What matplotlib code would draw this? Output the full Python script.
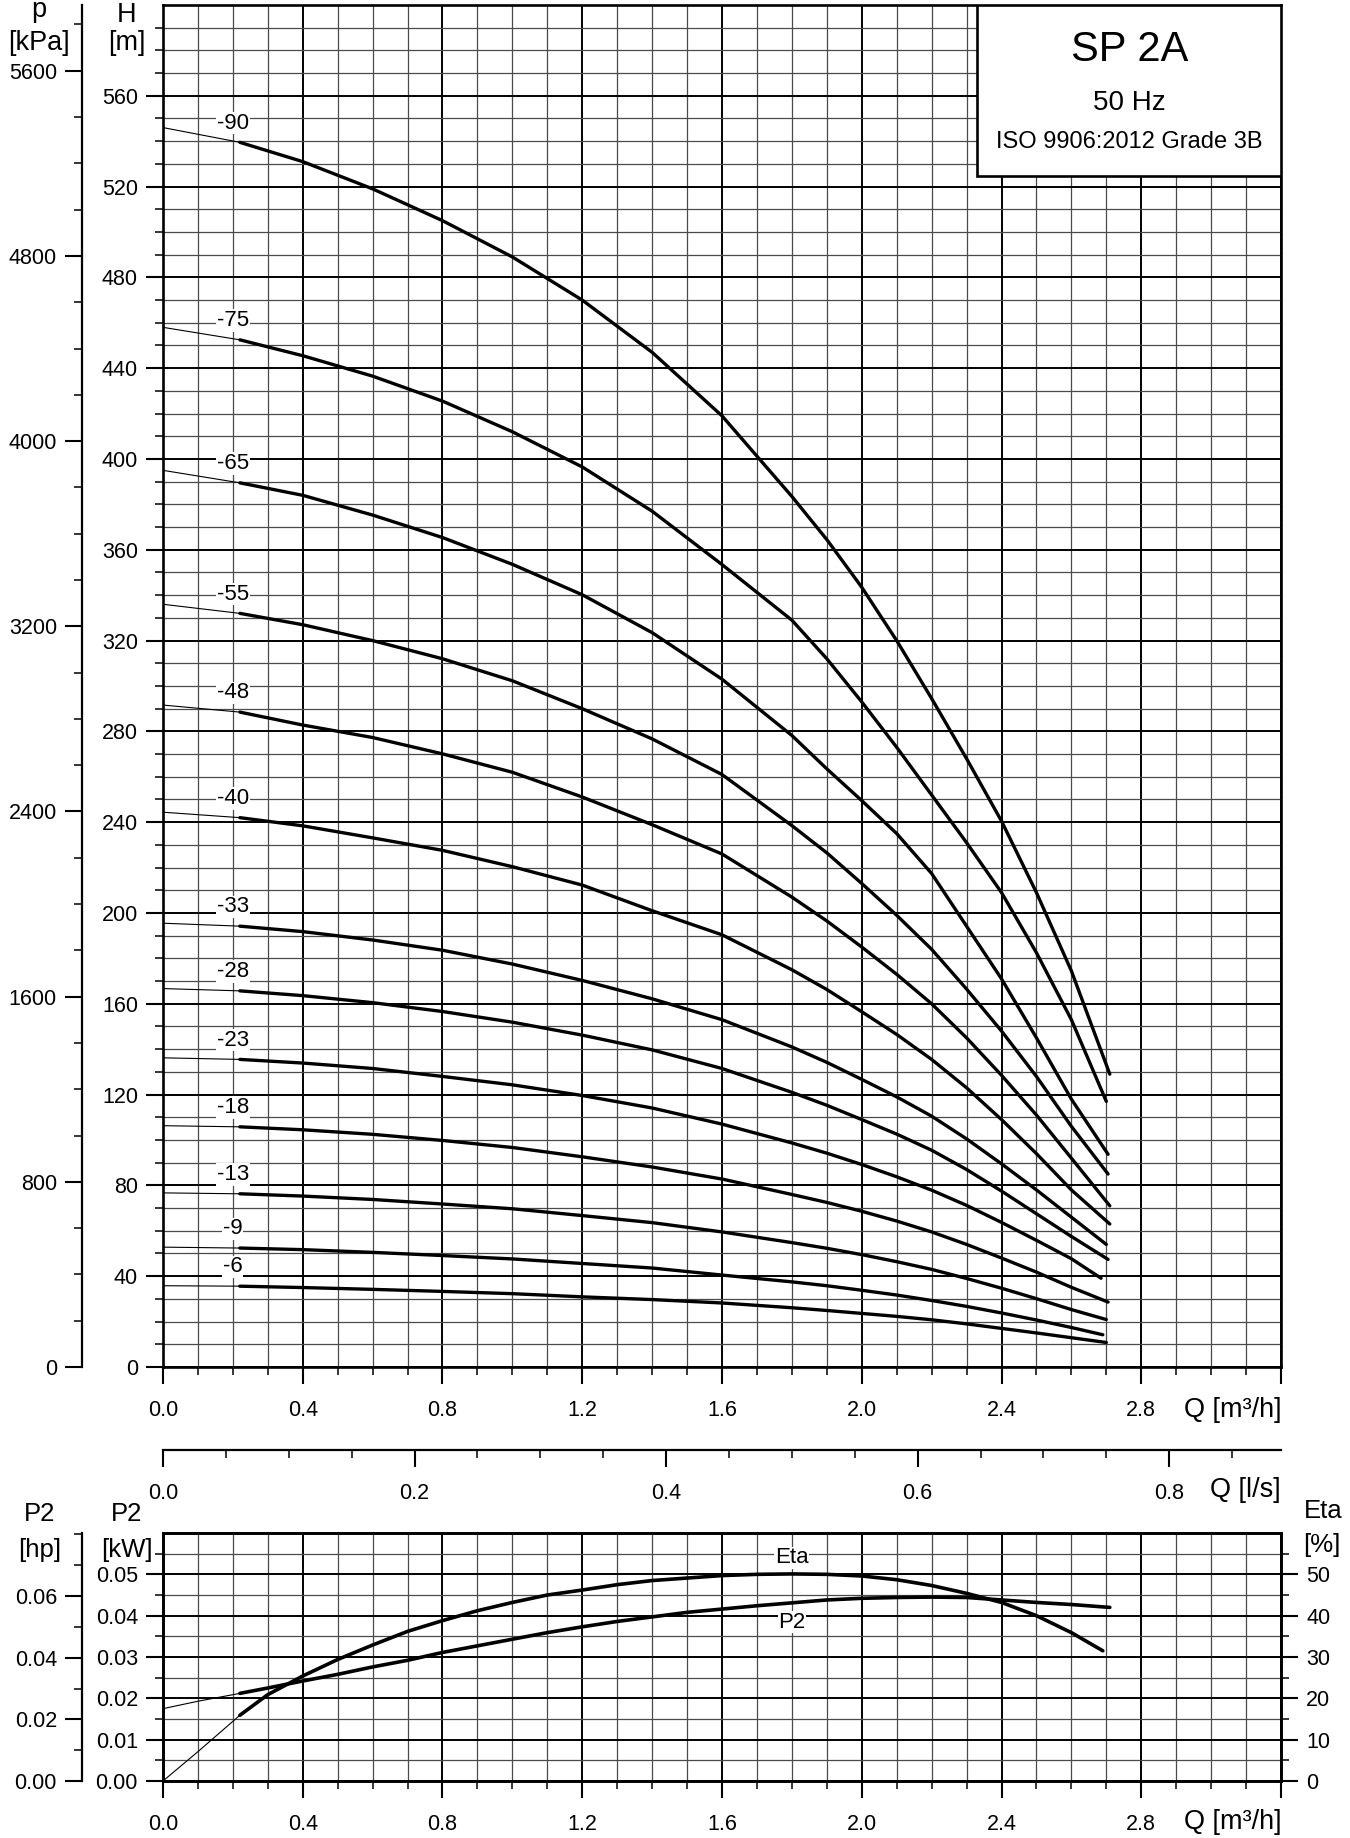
import matplotlib
matplotlib.use('Agg')
import matplotlib.pyplot as plt
from matplotlib.patches import Rectangle
from matplotlib.ticker import FixedLocator, FormatStrFormatter, FuncFormatter

plt.rcParams['font.family'] = ['Liberation Sans', 'DejaVu Sans']

# Curvas H-Q; el último valor es el extremo de cada curva
caudal = [0.0, 0.22, 0.4, 0.6, 0.8, 1.0, 1.2, 1.4, 1.6, 1.8, 1.9, 2.0, 2.1,
          2.2, 2.3, 2.4, 2.5, 2.6]
etapas = ['-90', '-75', '-65', '-55', '-48', '-40', '-33', '-28', '-23', '-18',
          '-13', '-9', '-6']
q_fin = [2.71, 2.70, 2.705, 2.705, 2.71, 2.71, 2.70, 2.705, 2.685, 2.705,
         2.70, 2.69, 2.70]
h_90 = [546, 539.5, 531, 519, 505, 489, 470, 447, 419, 383.5, 364.5, 343.5,
        320, 294.5, 268, 240.5, 209, 174.5, 129]
h_75 = [458, 452.5, 445.5, 436.5, 425.5, 412, 396.5, 377, 353.5, 329, 312, 293,
        273, 252, 231, 209, 182.5, 153, 117]
h_65 = [395, 389.5, 384, 375.3, 365.4, 353.6, 340.2, 323.5, 303, 278.2, 263.5,
        249.5, 235, 217.4, 194.2, 171, 145, 118, 93.7]
h_55 = [336, 332, 327, 320, 312, 302.3, 290, 276.7, 261, 238.5, 226.5, 213, 199,
        184, 166.5, 148, 128, 106, 85]
h_48 = [291.6, 288.5, 282.8, 277.3, 270.1, 262, 251.1, 238.9, 226, 207, 196.5,
        185, 173, 160, 145, 128.5, 111, 92, 71]
h_40 = [244.4, 242, 238.4, 233.1, 227.6, 220.4, 212.3, 201, 190.4, 175, 166.3,
        156.5, 146.5, 135.5, 123, 109, 94, 78, 63]
h_33 = [195.5, 194.2, 191.8, 188.1, 183.6, 177.5, 170.3, 162.2, 153, 141, 134.2,
        126.7, 119, 110.5, 100.5, 89.5, 78, 66, 54]
h_28 = [166.7, 165.7, 163.6, 160.5, 156.6, 151.9, 146.2, 139.7, 131.5, 121,
        115.3, 109, 102.6, 95.5, 87, 77.5, 67.5, 57.5, 47.4]
h_23 = [136.2, 135.5, 133.9, 131.5, 128, 124.3, 119.6, 114.1, 107, 98.7, 94.2,
        89.2, 83.8, 77.9, 71.2, 63.7, 55.8, 47.7, 39.1]
h_18 = [106.3, 105.8, 104.5, 102.5, 99.8, 96.7, 92.6, 88.1, 82.8, 76, 72.5,
        68.6, 64.3, 59.5, 54, 48, 41.8, 35.1, 28.6]
h_13 = [76.7, 76.3, 75.3, 73.8, 71.8, 69.7, 66.7, 63.6, 59.5, 54.8, 52.3, 49.5,
        46.4, 43, 39, 34.7, 30.1, 25.3, 20.9]
h_9 = [52.8, 52.4, 51.7, 50.5, 49.1, 47.6, 45.6, 43.6, 40.5, 37.5, 35.8, 33.8,
       31.7, 29.3, 26.7, 23.8, 20.7, 17.4, 14.2]
h_6 = [35.8, 35.6, 35, 34.2, 33.3, 32.3, 30.9, 29.7, 28.2, 26.1, 24.9, 23.6,
       22.3, 20.8, 19, 17, 15, 12.9, 10.8]
alturas = [h_90, h_75, h_65, h_55, h_48, h_40, h_33, h_28, h_23, h_18, h_13,
           h_9, h_6]

# Curvas de potencia y rendimiento
caudal_inf = [0.0, 0.1, 0.22, 0.3, 0.4, 0.5, 0.6, 0.7, 0.8, 0.9, 1.0, 1.1, 1.2,
              1.3, 1.4, 1.5, 1.6, 1.7, 1.8, 1.9, 2.0, 2.1, 2.2, 2.3, 2.4, 2.5,
              2.6]
eta = [0, 7.1, 15.9, 20.9, 25.4, 29.4, 32.9, 36.2, 38.8, 41.2, 43.2, 45.0, 46.2,
       47.5, 48.5, 49.1, 49.7, 50.0, 50.1, 50.0, 49.6, 48.7, 47.3, 45.4, 43.2,
       40.0, 35.9]
eta_fin = (2.69, 31.5)
p2_kw = [0.0175, 0.0193, 0.0212, 0.0225, 0.0242, 0.0258, 0.0276, 0.0292, 0.0311,
         0.0327, 0.0343, 0.0359, 0.0373, 0.0386, 0.0397, 0.0408, 0.0416, 0.0424,
         0.0431, 0.0438, 0.0442, 0.0444, 0.0445, 0.0444, 0.0438, 0.0432, 0.0427]
p2_fin = (2.71, 0.042)

# Ejes y marcas
q_mayor = [0.0, 0.4, 0.8, 1.2, 1.6, 2.0, 2.4, 2.8, 3.2]
q_menor = [i / 10 for i in range(33)]
h_mayor = list(range(0, 561, 40))
h_menor = list(range(0, 591, 10))
p_mayor = list(range(0, 5601, 800))
p_menor = list(range(0, 5801, 200))
ls_mayor = [0.0, 0.2, 0.4, 0.6, 0.8]
ls_menor = [i * 0.05 for i in range(18)]
kw_mayor = [0.0, 0.01, 0.02, 0.03, 0.04, 0.05]
kw_menor = [i * 0.005 for i in range(12)]
eta_mayor = [0, 10, 20, 30, 40, 50]
eta_menor = list(range(0, 56, 5))
hp_mayor = [0.0, 0.02, 0.04, 0.06]
hp_menor = [0.01, 0.03, 0.05, 0.07, 0.08]

TICK = 15.5
ETIQ = 19.5
GRUESO = 2.4
FINO = 0.8
PAD_X = 11.5


def estilo_marcas(eje, axis='both', pad=6):
    eje.tick_params(axis=axis, which='major', direction='out', length=12,
                    width=1.5, labelsize=TICK, pad=pad)
    eje.tick_params(axis=axis, which='minor', direction='out', length=6,
                    width=1.1)


def rejilla(eje, y_mayor, y_menor):
    eje.xaxis.set_major_locator(FixedLocator(q_mayor))
    eje.xaxis.set_minor_locator(FixedLocator(q_menor))
    eje.yaxis.set_major_locator(FixedLocator(y_mayor))
    eje.yaxis.set_minor_locator(FixedLocator(y_menor))
    eje.grid(which='minor', color='#4a4a4a', lw=0.9)
    eje.grid(which='major', color='black', lw=1.4)
    eje.set_axisbelow(True)
    eje.xaxis.set_major_formatter(
        FuncFormatter(lambda v, p: '' if v > 3.0 else f'{v:.1f}'))
    for s in eje.spines.values():
        s.set_linewidth(1.9)


fig = plt.figure(figsize=(13.5, 18.38), dpi=100)

# Gráfico principal H-Q
ax = fig.add_axes([0.12074, 0.25626, 0.82815, 0.74102])
ax.set_xlim(0, 3.2)
ax.set_ylim(0, 600)
rejilla(ax, h_mayor, h_menor)
ax.yaxis.set_major_formatter(FormatStrFormatter('%d'))
estilo_marcas(ax, 'y', 6)
estilo_marcas(ax, 'x', PAD_X)

for etiqueta, h, qf in zip(etapas, alturas, q_fin):
    q = caudal + [qf]
    ax.plot(q[:2], h[:2], color='black', lw=FINO, zorder=3)
    ax.plot(q[1:], h[1:], color='black', lw=GRUESO, zorder=3,
            solid_capstyle='round', solid_joinstyle='round')
    ax.text(0.2, h[1] + 8.5, etiqueta, fontsize=16, ha='center', va='center',
            zorder=4, bbox=dict(facecolor='white', edgecolor='none', pad=0.5))

# Recuadro del título
ax.add_patch(Rectangle((2.331, 524.7), 3.2 - 2.331, 600 - 524.7,
                       facecolor='white', edgecolor='black', lw=1.9, zorder=5))
ax.text(2.766, 580.2, 'SP 2A', fontsize=30, ha='center', va='center', zorder=6)
ax.text(2.766, 556.9, '50 Hz', fontsize=20, ha='center', va='center', zorder=6)
ax.text(2.766, 539.7, 'ISO 9906:2012 Grade 3B', fontsize=17, ha='center',
        va='center', zorder=6)

# Eje de presión
ax_p = ax.secondary_yaxis(-0.0725, functions=(lambda h: h * 9.80665,
                                               lambda p: p / 9.80665))
ax_p.yaxis.set_major_locator(FixedLocator(p_mayor))
ax_p.yaxis.set_minor_locator(FixedLocator(p_menor))
ax_p.yaxis.set_major_formatter(FormatStrFormatter('%d'))
estilo_marcas(ax_p, 'y', 6)
ax_p.spines['left'].set_linewidth(1.6)

# Eje de caudal en l/s
ax_ls = ax.secondary_xaxis(-0.0609, functions=(lambda q: q / 3.6,
                                                lambda l: l * 3.6))
ax_ls.xaxis.set_major_locator(FixedLocator(ls_mayor))
ax_ls.xaxis.set_minor_locator(FixedLocator(ls_menor))
ax_ls.xaxis.set_major_formatter(FormatStrFormatter('%.1f'))
estilo_marcas(ax_ls, 'x', PAD_X)
ax_ls.spines['bottom'].set_linewidth(1.6)

ax.text(1.0, -0.0316, 'Q [m³/h]', transform=ax.transAxes, ha='right',
        va='center', fontsize=19.5)
ax.text(1.0, -0.0903, 'Q [l/s]', transform=ax.transAxes, ha='right',
        va='center', fontsize=19.5)

# Gráfico inferior P2 / Eta
ax_inf = fig.add_axes([0.12074, 0.03101, 0.82815, 0.13493])
ax_inf.set_xlim(0, 3.2)
ax_inf.set_ylim(0, 0.06)
rejilla(ax_inf, kw_mayor, kw_menor)
ax_inf.yaxis.set_major_formatter(FormatStrFormatter('%.2f'))
estilo_marcas(ax_inf, 'y', 6)
estilo_marcas(ax_inf, 'x', PAD_X)

ax_eta = ax_inf.twinx()
ax_eta.set_ylim(0, 60)
ax_eta.yaxis.set_major_locator(FixedLocator(eta_mayor))
ax_eta.yaxis.set_minor_locator(FixedLocator(eta_menor))
ax_eta.yaxis.set_major_formatter(FormatStrFormatter('%d'))
estilo_marcas(ax_eta, 'y', 6)
for s in ax_eta.spines.values():
    s.set_linewidth(1.9)

q_p2 = caudal_inf + [p2_fin[0]]
v_p2 = p2_kw + [p2_fin[1]]
ax_inf.plot(q_p2[:3], v_p2[:3], color='black', lw=FINO, zorder=3)
ax_inf.plot(q_p2[2:], v_p2[2:], color='black', lw=2.6, zorder=3,
            solid_capstyle='round', solid_joinstyle='round')
q_eta = caudal_inf + [eta_fin[0]]
v_eta = eta + [eta_fin[1]]
ax_eta.plot(q_eta[:3], v_eta[:3], color='black', lw=FINO)
ax_eta.plot(q_eta[2:], v_eta[2:], color='black', lw=2.6,
            solid_capstyle='round', solid_joinstyle='round')
ax_eta.text(1.8, 54, 'Eta', fontsize=16, ha='center', va='center',
            bbox=dict(facecolor='white', edgecolor='none', pad=0.5))
ax_eta.text(1.8, 38.4, 'P2', fontsize=16, ha='center', va='center',
            bbox=dict(facecolor='white', edgecolor='none', pad=0.5))

ax_hp = ax_inf.secondary_yaxis(-0.0725, functions=(lambda kw: kw / 0.7457,
                                                    lambda hp: hp * 0.7457))
ax_hp.yaxis.set_major_locator(FixedLocator(hp_mayor))
ax_hp.yaxis.set_minor_locator(FixedLocator(hp_menor))
ax_hp.yaxis.set_major_formatter(FormatStrFormatter('%.2f'))
estilo_marcas(ax_hp, 'y', 6)
ax_hp.spines['left'].set_linewidth(1.6)

ax_inf.text(1.0, -0.165, 'Q [m³/h]', transform=ax_inf.transAxes, ha='right',
            va='center', fontsize=19.5)

# Títulos de los ejes
W, H = 1350, 1838


def rotulo(x, y, texto, size=ETIQ):
    fig.text(x / W, 1 - y / H, texto, ha='center', va='baseline', fontsize=size)


rotulo(39, 17, 'p')
rotulo(39, 50, '[kPa]')
rotulo(127, 22, 'H')
rotulo(127, 50, '[m]')
rotulo(40, 1521, 'P2', 18.5)
rotulo(40, 1557, '[hp]', 18.5)
rotulo(127, 1521, 'P2', 18.5)
rotulo(127, 1557, '[kW]', 18.5)
rotulo(1323, 1518, 'Eta', 18.5)
rotulo(1322, 1552, '[%]', 18.5)

fig.savefig('out.png', dpi=100)
